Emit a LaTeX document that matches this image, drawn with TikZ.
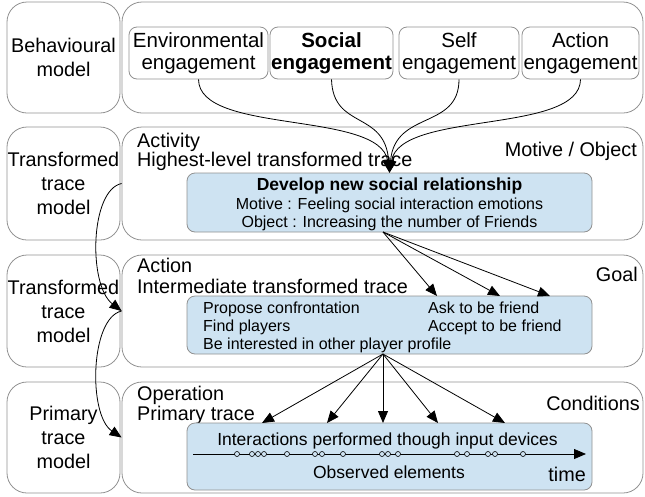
\documentclass[tikz,border=0pt]{standalone}
\usepackage{fontspec}
\setmainfont{Liberation Sans}
\usetikzlibrary{arrows.meta}
\definecolor{bluefill}{RGB}{206,227,242}
\definecolor{panelgray}{RGB}{145,145,145}
\begin{document}
\begin{tikzpicture}[x=1pt,y=-1pt,
 panel/.style={draw=panelgray, line width=0.8pt, rounded corners=20pt, inner sep=0pt},
 engbox/.style={draw=panelgray, line width=0.8pt, rounded corners=8pt, fill=white, inner sep=0pt, align=center},
 bluebox/.style={draw=panelgray, line width=0.8pt, rounded corners=8pt, fill=bluefill, inner sep=0pt},
 big/.style={font=\fontsize{19.8}{24}\selectfont, inner sep=0pt},
 engtxt/.style={font=\fontsize{20.5}{22.5}\selectfont},
 small/.style={font=\fontsize{16}{18.5}\selectfont, inner sep=0pt},
 mid/.style={font=\fontsize{17.5}{20}\selectfont, inner sep=0pt},
 conn/.style={line width=0.8pt, -{Triangle[length=12pt,width=10pt]}},
 tickmark/.style={circle, draw, fill=bluefill, inner sep=0pt, minimum size=5pt, line width=0.6pt}]
\useasboundingbox (0,0) rectangle (645,496);

% left panels
\node[panel, big, align=center, minimum width=113pt, minimum height=111pt] (L1) at (63.5,57.5) {Behavioural\\model};
\node[panel, big, align=center, minimum width=113pt, minimum height=113pt] (L2) at (63.5,183.5) {Transformed\\trace\\model};
\node[panel, big, align=center, minimum width=113pt, minimum height=112pt] (L3) at (63.5,311) {Transformed\\trace\\model};
\node[panel, big, align=center, minimum width=113pt, minimum height=111pt] (L4) at (63.5,437.5) {Primary\\trace\\model};

% right panels
\node[panel, minimum width=521pt, minimum height=111pt] (R1) at (382.5,57.5) {};
\node[panel, minimum width=521pt, minimum height=113pt] (R2) at (382.5,183.5) {};
\node[panel, minimum width=521pt, minimum height=112pt] (R3) at (382.5,311) {};
\node[panel, minimum width=521pt, minimum height=111pt] (R4) at (382.5,437.5) {};

% row 1 engagement boxes
\node[engbox, engtxt, minimum width=139pt, minimum height=52pt] (env) at (198.5,53) {Environmental\\engagement};
\node[engbox, engtxt, font=\fontsize{20.5}{22.5}\selectfont\bfseries, minimum width=123pt, minimum height=52pt] (soc) at (331.5,53) {Social\\engagement};
\node[engbox, engtxt, minimum width=120pt, minimum height=52pt] (self) at (459,53) {Self\\engagement};
\node[engbox, engtxt, minimum width=117pt, minimum height=52pt] (act) at (580.5,53) {Action\\engagement};

% row 2
\node[big, anchor=base west] (activity) at (137,147) {Activity};
\node[big, anchor=base west] (hltt) at (137,166) {Highest-level transformed trace};
\node[big, anchor=base east] (motobj) at (637,156) {Motive / Object};
\node[bluebox, minimum width=405pt, minimum height=59pt] (b1) at (389.5,202.5) {};
\node[mid, font=\fontsize{17.5}{20}\selectfont\bfseries, anchor=base] (b1a) at (389.5,190) {Develop new social relationship};
\node[small, anchor=base] (b1b) at (389.5,209) {Motive : Feeling social interaction emotions};
\node[small, anchor=base] (b1c) at (389.5,227) {Object : Increasing the number of Friends};

% row 3
\node[big, anchor=base west] (action) at (137,272) {Action};
\node[big, anchor=base west] (itt) at (137,293) {Intermediate transformed trace};
\node[big, anchor=base east] (goal) at (638,281) {Goal};
\node[bluebox, minimum width=405pt, minimum height=58pt] (b2) at (389.5,325) {};
\node[small, anchor=base west] (g1) at (203,313) {Propose confrontation};
\node[small, anchor=base west] (g2) at (203,331) {Find players};
\node[small, anchor=base west] (g3) at (203,349) {Be interested in other player profile};
\node[small, anchor=base west] (g4) at (428,313) {Ask to be friend};
\node[small, anchor=base west] (g5) at (428,331) {Accept to be friend};

% row 4
\node[big, anchor=base west] (operation) at (137,400) {Operation};
\node[big, anchor=base west] (ptrace) at (137,420) {Primary trace};
\node[big, anchor=base east] (cond) at (640,410) {Conditions};
\node[bluebox, minimum width=405pt, minimum height=67pt] (b3) at (389.5,456.5) {};
\node[mid, anchor=base] (inter) at (387.5,445) {Interactions performed though input devices};
\node[mid, anchor=base] (obs) at (389,478) {Observed elements};
\node[big, anchor=base east] (time) at (586,481) {time};

% timeline
\coordinate (tl0) at (193,454);
\coordinate (tl1) at (586,454);
\draw[conn] (tl0) -- (tl1);
\foreach \xx [count=\i] in {237,252,258,264,287,315,322,343,382,388,398,457,467,488,495,523}
  \node[tickmark] (tk\i) at (\xx,454) {};

% row 1 -> row 2
\draw[conn] (env.south) .. controls (199,135) and (380,110) .. (b1.north);
\draw[conn] (soc.south) .. controls (333,130) and (385,110) .. (b1.north);
\draw[conn] (self.south) .. controls (459,130) and (395,110) .. (b1.north);
\draw[conn] (act.south) .. controls (580,135) and (400,110) .. (b1.north);

% row 2 -> row 3
\coordinate (s1) at (383,232);
\coordinate (t1) at (437,296);
\coordinate (t2) at (500,296);
\coordinate (t3) at (550,296);
\foreach \t in {t1,t2,t3} \draw[conn] (s1) -- (\t);

% row 3 -> row 4
\coordinate (s2) at (383,354);
\coordinate (u1) at (262,423);
\coordinate (u2) at (327,423);
\coordinate (u3) at (383,423);
\coordinate (u4) at (438,423);
\coordinate (u5) at (505,423);
\foreach \u in {u1,u2,u3,u4,u5} \draw[conn] (s2) -- (\u);

% left curves
\draw[conn] (R2.west) .. controls (90,190) and (88,285) .. (R3.west);
\draw[conn] (R3.west) .. controls (90,318) and (88,415) .. (R4.west);
\end{tikzpicture}
\end{document}
